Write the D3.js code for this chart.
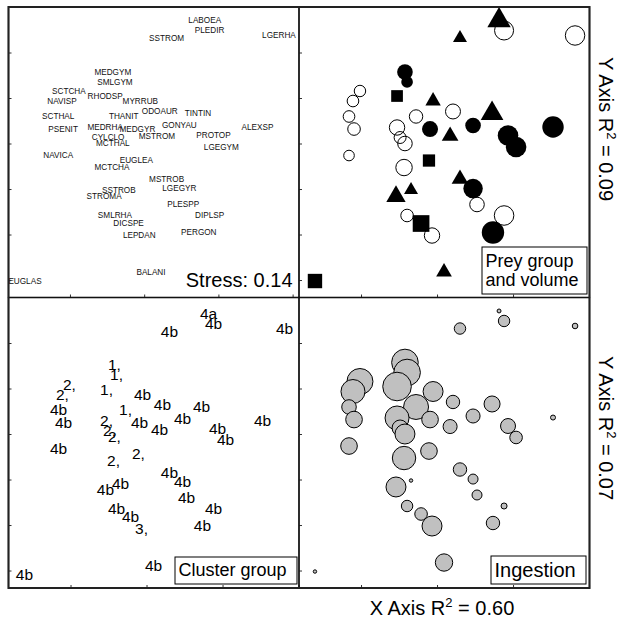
<!DOCTYPE html>
<html>
<head>
<meta charset="utf-8">
<script src="https://cdnjs.cloudflare.com/ajax/libs/d3/7.8.5/d3.min.js"></script>
<style>
  html, body { margin: 0; padding: 0; background: #fff; }
  svg { display: block; font-family: "Liberation Sans", Arial, Helvetica, sans-serif; }
</style>
</head>
<body>
<svg id="chart" width="627" height="621"></svg>
<script>
// ---- NMDS ordination of prey taxa ----
const species = [
  "MEDGYM","SMLGYM","SCTCHA","NAVISP","RHODSP","MYRRUB","SCTHAL","THANIT","ODOAUR","TINTIN",
  "PSENIT","MEDRHA","MEDGYR","MSTROM","GONYAU","CYLCLO","MCTHAL","ALEXSP","PROTOP","LGEGYM",
  "SSTROM","LABOEA","PLEDIR","LGERHA","NAVICA","EUGLEA","MCTCHA","MSTROB","LGEGYR","PLESPP",
  "DIPLSP","SSTROB","STROMA","SMLRHA","DICSPE","LEPDAN","PERGON","BALANI","EUGLAS"
];
const nmds1 = [
  -0.711,-0.697,-1.007,-1.053,-0.763,-0.526,-1.079,-0.638,-0.395,-0.138,
  -1.046,-0.763,-0.546,-0.414,-0.263,-0.743,-0.711, 0.263,-0.033, 0.020,
  -0.349,-0.092,-0.059, 0.408,-1.079,-0.553,-0.717,-0.349,-0.263,-0.237,
  -0.059,-0.671,-0.770,-0.697,-0.605,-0.533,-0.132,-0.454,-1.303
];
const nmds2 = [
   0.786, 0.676, 0.577, 0.467, 0.522, 0.467, 0.297, 0.297, 0.352, 0.330,
   0.159, 0.176, 0.159, 0.082, 0.198, 0.066, 0.000, 0.181, 0.088,-0.038,
   1.159, 1.352, 1.242, 1.187,-0.132,-0.187,-0.264,-0.390,-0.495,-0.670,
  -0.791,-0.511,-0.582,-0.791,-0.879,-1.011,-0.978,-1.412,-1.511
];
const preyGroup = [
  "dinoflagellate","dinoflagellate","diatom","diatom","flagellate","ciliate","diatom","diatom","diatom","ciliate",
  "diatom","diatom","dinoflagellate","ciliate","dinoflagellate","diatom","diatom","dinoflagellate","dinoflagellate","dinoflagellate",
  "ciliate","ciliate","diatom","diatom","diatom","flagellate","diatom","ciliate","dinoflagellate","diatom",
  "diatom","ciliate","ciliate","diatom","flagellate","diatom","dinoflagellate","ciliate","flagellate"
];
// relative cell volume (symbol expansion)
const preyVolume = [
  1.50,1.12,1.10,1.12,1.27,1.10,1.12,1.29,1.44,1.62,
  1.21,1.48,1.54,1.19,1.50,1.15,1.40,2.06,1.98,1.98,
  1.00,1.67,1.83,1.87,1.02,1.33,1.58,1.19,1.87,1.40,
  1.88,1.00,1.38,1.21,1.81,1.48,2.15,1.12,1.56
];
// relative ingestion (symbol expansion)
const ingestion = [
  2.56,2.56,2.50,2.31,2.75,1.92,1.40,2.40,1.29,1.54,
  1.60,2.31,1.60,1.35,1.35,1.54,1.92,0.48,1.44,1.21,
  1.10,0.38,1.10,0.54,1.60,1.60,2.25,1.29,0.96,0.96,
  0.58,0.33,1.92,1.10,1.21,1.92,1.29,1.67,0.33
];
const clusterGroup = [
  "1,","1,","2,","2,","1,","4b","4b","1,","4b","4b",
  "4b","2,","4b","4b","4b","2,","2,","4b","4b","4b",
  "4b","4a","4b","4b","4b","2,","2,","4b","4b","4b",
  "4b","4b","4b","4b","4b","3,","4b","4b","4b"
];
const xTicks = [-1, -0.5, 0, 0.5];
const yTicks = [1, 0.5, 0, -0.5, -1, -1.5];
const stressValue = 0.14;
const r2X = "0.60", r2YTop = "0.09", r2YBottom = "0.07";

const rows = species.map((s, i) => ({
  name: s, x: nmds1[i], y: nmds2[i], group: preyGroup[i],
  volume: preyVolume[i], ingest: ingestion[i], cluster: clusterGroup[i]
}));

// ---- layout ----
const svg = d3.select("#chart");
const L = 8.5, T = 7, S = 290.5;
const xLabels = d3.scaleLinear().domain([-1.414, 0.543]).range([0, S]);
const x = d3.scaleLinear().domain([-1.408, 0.503]).range([0, S]);
const y = d3.scaleLinear().domain([1.5, -1.692]).range([0, S]);
const sym = d3.scaleLinear().domain([0, 1]).range([0, 5.2]);

function panel(px, py, xs) {
  const g = svg.append("g").attr("transform", `translate(${px},${py})`);
  const clip = "clip" + Math.round(px) + "_" + Math.round(py);
  g.append("clipPath").attr("id", clip).append("rect").attr("width", S).attr("height", S);
  const body = g.append("g").attr("clip-path", `url(#${clip})`);
  // inward ticks on the left and bottom edges
  const ax = g.append("g").call(d3.axisLeft(y).tickValues(yTicks).tickSize(-3).tickFormat(""));
  const bx = g.append("g").attr("transform", `translate(0,${S})`)
    .call(d3.axisBottom(xs).tickValues(xTicks).tickSize(-3).tickFormat(""));
  [ax, bx].forEach(a => { a.select(".domain").remove(); a.selectAll("line").attr("stroke", "#333").attr("stroke-width", 1); });
  g.append("rect").attr("width", S).attr("height", S)
    .attr("fill", "none").attr("stroke", "#111").attr("stroke-width", 1.3);
  return { g, body };
}

// Species labels
const p1 = panel(L, T, xLabels);
p1.body.selectAll("text.sp").data(rows).join("text")
  .attr("class", "sp")
  .attr("x", d => xLabels(d.x)).attr("y", d => y(d.y) + 2.9)
  .attr("text-anchor", "middle").attr("font-size", 8.2).attr("fill", "#111")
  .text(d => d.name);
p1.g.append("text").attr("x", S - 6.5).attr("y", 280).attr("text-anchor", "end")
  .attr("font-size", 20).attr("fill", "#000").text("Stress: " + stressValue.toFixed(2));

// Prey group and volume
const p2 = panel(L + S, T, x);
const shape = {
  diatom: "circle-open", dinoflagellate: "circle", ciliate: "triangle", flagellate: "square"
};
p2.body.selectAll("g.pt").data(rows).join("g").attr("class", "pt")
  .attr("transform", d => `translate(${x(d.x)},${y(d.y)})`)
  .each(function (d) {
    const sel = d3.select(this), R = sym(d.volume), kind = shape[d.group];
    if (kind === "circle-open") {
      sel.append("circle").attr("r", R).attr("fill", "none").attr("stroke", "#000").attr("stroke-width", 1);
    } else if (kind === "circle") {
      sel.append("circle").attr("r", R).attr("fill", "#000");
    } else if (kind === "square") {
      const h = 0.8862 * R;
      sel.append("rect").attr("x", -h).attr("y", -h).attr("width", 2 * h).attr("height", 2 * h).attr("fill", "#000");
    } else {
      const r = 1.555 * R, xc = 1.347 * R, yc = 0.778 * R;
      sel.append("path").attr("d", `M0,${-r}L${xc},${yc}L${-xc},${yc}Z`).attr("fill", "#000");
    }
  });
function legendBox(g, x0, y0, w, h, lines, size, baselines) {
  g.append("rect").attr("x", x0).attr("y", y0).attr("width", w).attr("height", h)
    .attr("fill", "#fff").attr("stroke", "#000").attr("stroke-width", 1);
  lines.forEach((t, i) => g.append("text").attr("x", x0 + 3.5).attr("y", baselines[i])
    .attr("font-size", size).attr("fill", "#000").text(t));
}
legendBox(p2.g, 482 - (L + S), 247 - T, 105, 47, ["Prey group", "and volume"], 18, [267 - T, 286 - T]);

// Cluster group
const p3 = panel(L, T + S, x);
p3.body.selectAll("text.cl").data(rows).join("text")
  .attr("class", "cl")
  .attr("x", d => x(d.x)).attr("y", d => y(d.y) + 8)
  .attr("text-anchor", "middle").attr("font-size", 15.5).attr("fill", "#000")
  .text(d => d.cluster);
legendBox(p3.g, 175 - L, 557 - (T + S), 122, 27, ["Cluster group"], 18, [576 - (T + S)]);

// Ingestion
const p4 = panel(L + S, T + S, x);
p4.body.selectAll("circle.ing").data(rows).join("circle")
  .attr("class", "ing")
  .attr("cx", d => x(d.x)).attr("cy", d => y(d.y)).attr("r", d => sym(d.ingest))
  .attr("fill", "#c0c0c0").attr("stroke", "#000").attr("stroke-width", 1);
legendBox(p4.g, 491 - (L + S), 556 - (T + S), 95, 28, ["Ingestion"], 20, [576.5 - (T + S)]);

// outer frame
svg.append("rect").attr("x", L).attr("y", T).attr("width", 2 * S).attr("height", 2 * S)
  .attr("fill", "none").attr("stroke", "#222").attr("stroke-width", 2);

// axis fit captions
function caption(t, value, tx, ty, rot) {
  const el = svg.append("text").attr("font-size", 20).attr("fill", "#000").attr("text-anchor", "middle")
    .attr("transform", `translate(${tx},${ty}) rotate(${rot})`);
  el.append("tspan").text(t + " R");
  el.append("tspan").attr("font-size", 13).attr("dy", -8).text("2");
  el.append("tspan").attr("dy", 8).text(" = " + value);
}
caption("X Axis", r2X, 442, 615, 0);
caption("Y Axis", r2YTop, 599, 129, 90);
caption("Y Axis", r2YBottom, 599, 428, 90);
</script>
</body>
</html>
